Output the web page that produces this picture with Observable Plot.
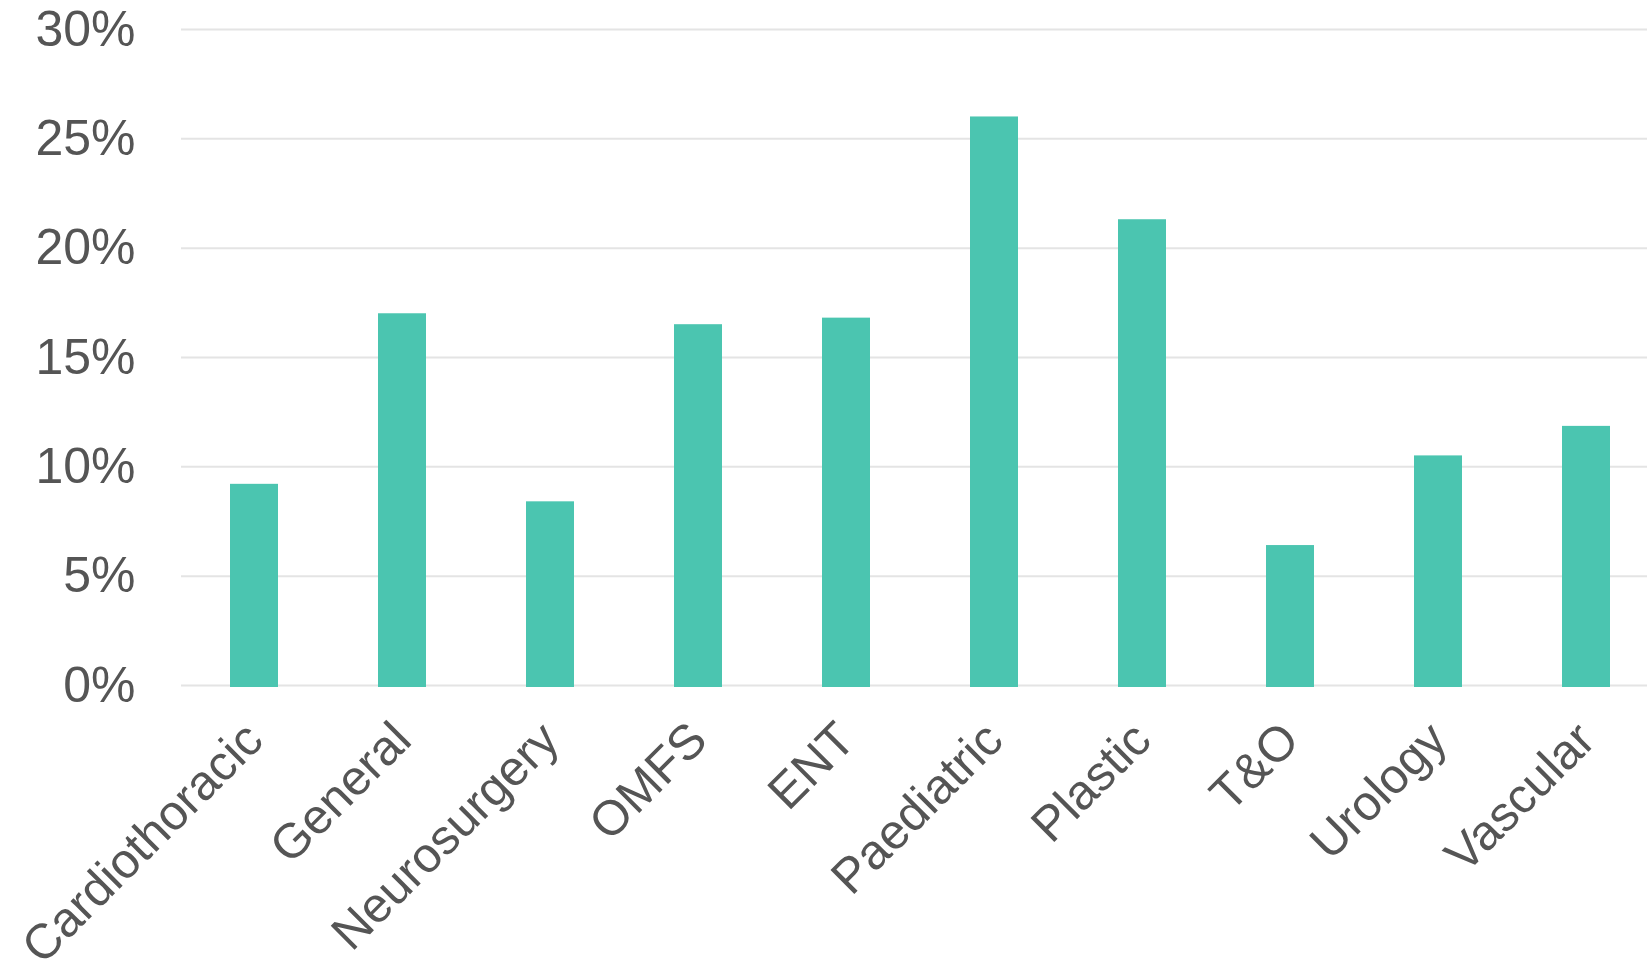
<!DOCTYPE html>
<html><head><meta charset="utf-8">
<script src="https://cdn.jsdelivr.net/npm/d3@7"></script>
<script src="https://cdn.jsdelivr.net/npm/@observablehq/plot@0.6"></script>
<style>html,body{margin:0;padding:0;background:#fff}svg{display:block}</style>
</head><body><div id="chart"></div>
<script>
const specialties = ["Cardiothoracic","General","Neurosurgery","OMFS","ENT","Paediatric","Plastic","T&O","Urology","Vascular"];
const shares = [0.092, 0.170, 0.084, 0.165, 0.168, 0.260, 0.213, 0.064, 0.105, 0.1185];
const yTicks = [0, 0.05, 0.10, 0.15, 0.20, 0.25, 0.30];

const data = specialties.map((s, i) => ({specialty: s, share: shares[i]}));

const chart = Plot.plot({
  width: 1647, height: 976,
  marginTop: 29, marginBottom: 291, marginLeft: 181, marginRight: 0,
  style: {fontFamily: "'Liberation Sans', Arial, sans-serif", fontSize: "50px", color: "#555", background: "#fff"},
  x: {domain: specialties, range: [178, 1661], paddingInner: 0.676, paddingOuter: 0.338, label: null},
  y: {domain: [0, 0.30], label: null},
  marks: [
    Plot.gridY(yTicks, {stroke: "#e4e4e4", strokeOpacity: 1, strokeWidth: 2}),
    Plot.barY(data, {x: "specialty", y: "share", fill: "#4bc5b0", insetBottom: -2}),
    Plot.axisY(yTicks, {tickFormat: d => Math.round(d * 100) + "%", tickSize: 0, tickPadding: 46, fontSize: 50, fill: "#555"}),
    Plot.axisX({tickRotate: -45, tickSize: 0, tickPadding: 46, fontSize: 49, fill: "#555"})
  ]
});
document.getElementById("chart").appendChild(chart);
</script>
</body></html>
